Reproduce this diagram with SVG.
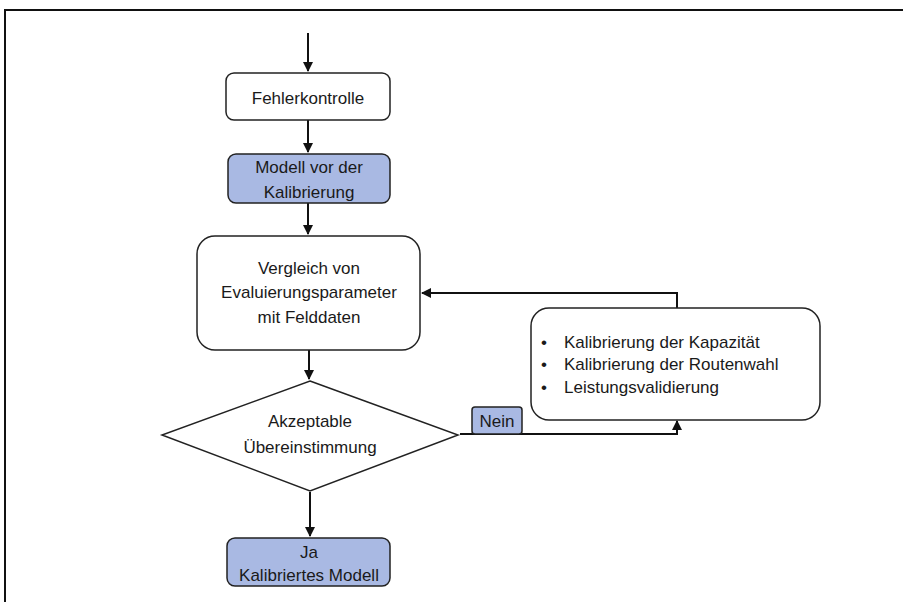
<svg xmlns="http://www.w3.org/2000/svg" width="903" height="602" viewBox="0 0 903 602">
<defs>
<style>
.box{fill:#ffffff;stroke:#222;stroke-width:1.5}
.blue{fill:#a9b9e3;stroke:#222;stroke-width:1.5}
.t{font-family:"Liberation Sans",Arial,sans-serif;font-size:17px;fill:#1a1a1a;text-anchor:middle}
.tl{font-family:"Liberation Sans",Arial,sans-serif;font-size:17px;fill:#1a1a1a}
.c{fill:none;stroke:#111;stroke-width:2}
</style>
<marker id="ah" viewBox="0 0 10 10" refX="9" refY="5" markerWidth="5" markerHeight="5" orient="auto">
<path d="M0,0 L10,5 L0,10 z" fill="#111"/>
</marker>
</defs>
<rect width="903" height="602" fill="#ffffff"/>
<path d="M5,602 V10 H903" fill="none" stroke="#111" stroke-width="2"/>
<g id="connectors">
<line class="c" x1="308" y1="33" x2="308" y2="71" marker-end="url(#ah)"/>
<line class="c" x1="308" y1="120" x2="308" y2="152" marker-end="url(#ah)"/>
<line class="c" x1="308" y1="203" x2="308" y2="234" marker-end="url(#ah)"/>
<line class="c" x1="309" y1="350" x2="309" y2="379" marker-end="url(#ah)"/>
<line class="c" x1="310" y1="492" x2="310" y2="536" marker-end="url(#ah)"/>
<polyline class="c" points="460,434 677,434 677,421" marker-end="url(#ah)"/>
<polyline class="c" points="677,308 677,293 422,293" marker-end="url(#ah)"/>
</g>
<g id="fehlerkontrolle">
<rect class="box" x="226" y="73" width="164" height="47" rx="8"/>
<text class="t" x="308" y="104">Fehlerkontrolle</text>
</g>
<g id="modell">
<rect class="blue" x="228" y="154" width="162" height="49" rx="8"/>
<text class="t" x="309" y="173">Modell vor der</text>
<text class="t" x="309" y="198">Kalibrierung</text>
</g>
<g id="vergleich">
<rect class="box" x="197" y="236" width="223" height="114" rx="18"/>
<text class="t" x="309" y="274">Vergleich von</text>
<text class="t" x="309" y="298">Evaluierungsparameter</text>
<text class="t" x="309" y="323">mit Felddaten</text>
</g>
<g id="entscheidung">
<polygon class="box" points="310,381 458,435 310,491 162,435"/>
<text class="t" x="310" y="427">Akzeptable</text>
<text class="t" x="310" y="453">Übereinstimmung</text>
</g>
<g id="kalibrierung">
<rect class="box" x="531" y="308" width="289" height="112" rx="18"/>
<text class="tl" x="541" y="348">•</text>
<text class="tl" x="564" y="348">Kalibrierung der Kapazität</text>
<text class="tl" x="541" y="370">•</text>
<text class="tl" x="564" y="370">Kalibrierung der Routenwahl</text>
<text class="tl" x="541" y="393">•</text>
<text class="tl" x="564" y="393">Leistungsvalidierung</text>
</g>
<g id="nein">
<rect class="blue" x="472" y="407" width="50" height="27" rx="3"/>
<text class="t" x="497" y="427">Nein</text>
</g>
<g id="ergebnis">
<rect class="blue" x="227" y="538" width="163" height="48" rx="8"/>
<text class="t" x="309" y="558">Ja</text>
<text class="t" x="309" y="581">Kalibriertes Modell</text>
</g>
</svg>
